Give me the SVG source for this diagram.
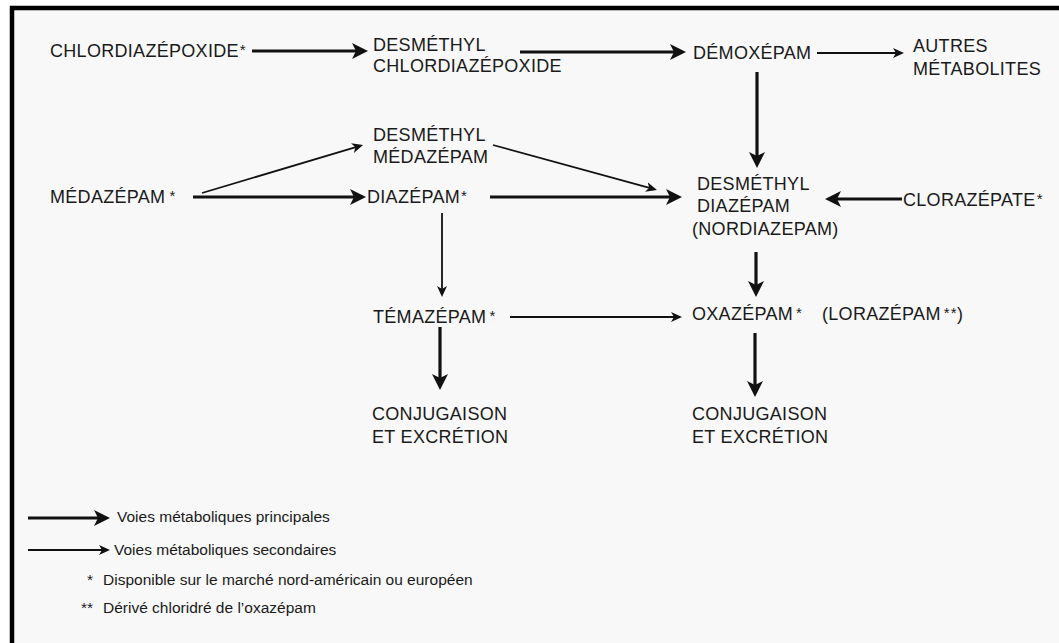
<svg xmlns="http://www.w3.org/2000/svg" width="1059" height="643" viewBox="0 0 1059 643">
  <style>
    .lbl { font-family: "Liberation Sans", Arial, sans-serif; font-size: 18px; fill: #1a1a1a; letter-spacing: 0.3px; }
    .leg { font-family: "Liberation Sans", Arial, sans-serif; font-size: 15.5px; fill: #1a1a1a; }
    .ast { font-size: 15px; baseline-shift: 2px; }
    .thick { stroke: #111; stroke-width: 3.2; fill: none; marker-end: url(#hThick); }
    .thin { stroke: #111; stroke-width: 1.8; fill: none; marker-end: url(#hThin); }
  </style>
  <defs>
    <marker id="hThick" markerUnits="userSpaceOnUse" viewBox="0 0 16 16" markerWidth="16" markerHeight="16" refX="10" refY="8" orient="auto">
      <path d="M0,0 L16,8 L0,16 L4,8 z" fill="#111"/>
    </marker>
    <marker id="hThin" markerUnits="userSpaceOnUse" viewBox="0 0 11 10" markerWidth="11" markerHeight="10" refX="7" refY="5" orient="auto">
      <path d="M0,0 L11,5 L0,10 L3,5 z" fill="#111"/>
    </marker>
  </defs>

  <rect x="0" y="0" width="1059" height="643" fill="#ffffff"/>
  <rect x="12" y="7" width="1047" height="636" fill="#f8f8f8"/>
  <path d="M12,643 V8 H1059" fill="none" stroke="#000" stroke-width="4.5"/>

  <g id="connectors">
    <path class="thick" d="M252,51 H362"/>
    <path class="thick" d="M520,52 H680"/>
    <path class="thin" d="M817,53 H900"/>
    <path class="thick" d="M757,72 V162"/>
    <path class="thin" d="M202,193 L359.2,146.1"/>
    <path class="thick" d="M193,197 H360"/>
    <path class="thin" d="M493,145 L653.1,188.9"/>
    <path class="thick" d="M490,197 H676"/>
    <path class="thick" d="M902,199 H831"/>
    <path class="thin" d="M442,213 V293"/>
    <path class="thick" d="M756,252 V291"/>
    <path class="thin" d="M510,317 H678"/>
    <path class="thick" d="M440,327 V384"/>
    <path class="thick" d="M755,333 V391"/>
  </g>

  <g id="chlordiazepoxide"><text class="lbl" x="50" y="57">CHLORDIAZÉPOXIDE<tspan class="ast" dx="1">*</tspan></text></g>
  <g id="desmethyl-chlordiazepoxide">
    <text class="lbl" x="373" y="51">DESMÉTHYL</text>
    <text class="lbl" x="373" y="72">CHLORDIAZÉPOXIDE</text>
  </g>
  <g id="demoxepam"><text class="lbl" x="693" y="59">DÉMOXÉPAM</text></g>
  <g id="autres-metabolites">
    <text class="lbl" x="913" y="52">AUTRES</text>
    <text class="lbl" x="913" y="75">MÉTABOLITES</text>
  </g>
  <g id="desmethyl-medazepam">
    <text class="lbl" x="373" y="141">DESMÉTHYL</text>
    <text class="lbl" x="373" y="163">MÉDAZÉPAM</text>
  </g>
  <g id="medazepam"><text class="lbl" x="50" y="203">MÉDAZÉPAM<tspan class="ast" dx="4">*</tspan></text></g>
  <g id="diazepam"><text class="lbl" x="367" y="203">DIAZÉPAM<tspan class="ast" dx="1">*</tspan></text></g>
  <g id="desmethyl-diazepam">
    <text class="lbl" x="697" y="190">DESMÉTHYL</text>
    <text class="lbl" x="697" y="212">DIAZÉPAM</text>
    <text class="lbl" x="692" y="235">(NORDIAZEPAM)</text>
  </g>
  <g id="clorazepate"><text class="lbl" x="903" y="206">CLORAZÉPATE<tspan class="ast" dx="1">*</tspan></text></g>
  <g id="temazepam"><text class="lbl" x="373" y="323">TÉMAZÉPAM<tspan class="ast" dx="3">*</tspan></text></g>
  <g id="oxazepam"><text class="lbl" x="692" y="320">OXAZÉPAM<tspan class="ast" dx="3">*</tspan></text></g>
  <g id="lorazepam"><text class="lbl" x="822" y="320">(LORAZÉPAM<tspan class="ast" dx="3">*</tspan><tspan class="ast" dx="1">*</tspan>)</text></g>
  <g id="conjugaison-1">
    <text class="lbl" x="372" y="420">CONJUGAISON</text>
    <text class="lbl" x="372" y="443">ET EXCRÉTION</text>
  </g>
  <g id="conjugaison-2">
    <text class="lbl" x="692" y="420">CONJUGAISON</text>
    <text class="lbl" x="692" y="443">ET EXCRÉTION</text>
  </g>

  <g id="legend">
    <path class="thick" d="M28,518 H104"/>
    <text class="leg" x="117" y="522">Voies métaboliques principales</text>
    <path class="thin" d="M28,550 H106"/>
    <text class="leg" x="114" y="555">Voies métaboliques secondaires</text>
    <text class="leg" x="87" y="585">*</text>
    <text class="leg" x="103" y="585">Disponible sur le marché nord-américain ou européen</text>
    <text class="leg" x="81" y="613">**</text>
    <text class="leg" x="103" y="613">Dérivé chloridré de l’oxazépam</text>
  </g>
</svg>
